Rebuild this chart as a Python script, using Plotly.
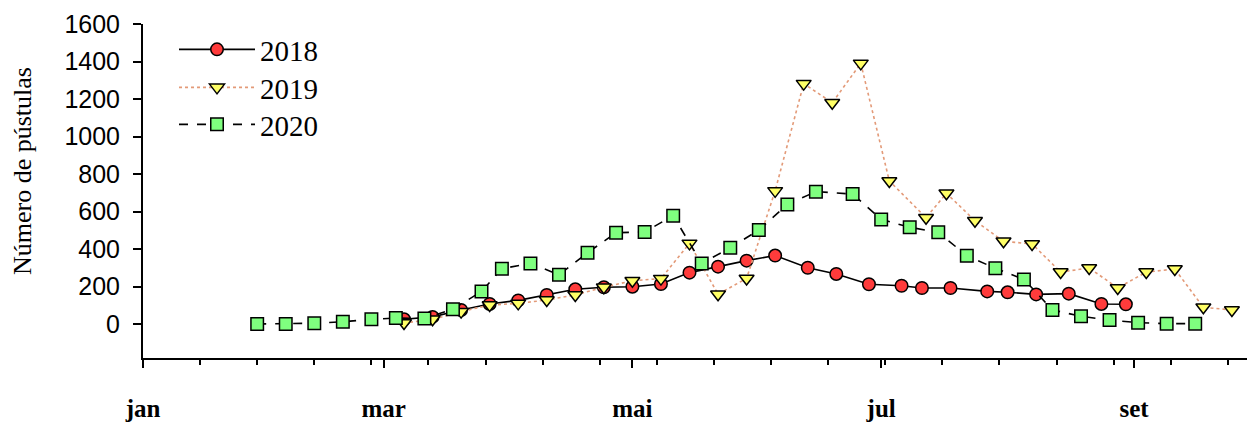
import plotly.graph_objects as go

# ---- data (day of year, 0 = 1 Jan) ----
days_2018 = [64, 71, 78, 85, 92, 99, 106, 113, 120, 127, 134, 141, 148, 155, 163, 170,
             178, 186, 191, 198, 207, 212, 219, 227, 235, 241]
pust_2018 = [25, 38, 75, 107, 126, 155, 185, 196, 199, 213, 274, 306, 338, 365, 300, 267,
             212, 204, 192, 192, 174, 169, 158, 162, 107, 105]

days_2019 = [64, 71, 78, 85, 92, 99, 106, 113, 120, 127, 134, 141, 148, 155, 162, 169,
             176, 183, 192, 197, 204, 211, 218, 225, 232, 239, 246, 253, 260, 267]
pust_2019 = [5, 25, 66, 101, 110, 128, 155, 196, 231, 242, 430, 159, 243, 710, 1282, 1180,
             1390, 763, 567, 697, 551, 441, 427, 277, 299, 192, 277, 293, 89, 75]

days_2020 = [28, 35, 42, 49, 56, 62, 69, 76, 83, 88, 95, 102, 109, 116, 123, 130, 137,
             144, 151, 158, 165, 174, 181, 188, 195, 202, 209, 216, 223, 230, 237, 244,
             251, 258]
pust_2020 = [0, 0, 4, 12, 25, 32, 30, 79, 174, 295, 323, 263, 380, 487, 491, 578, 323,
             407, 501, 638, 706, 693, 558, 516, 489, 364, 297, 238, 75, 41, 21, 7, 2, 2]

month_days = [0, 59, 120, 181, 243]
month_labels = ["jan", "mar", "mai", "jul", "set"]
y_ticks = [0, 200, 400, 600, 800, 1000, 1200, 1400, 1600]

SERIF = "Liberation Serif, Times New Roman, serif"
SANS = "Liberation Sans, Arial, sans-serif"

fig = go.Figure()
fig.add_trace(go.Scatter(
    x=days_2018, y=pust_2018, name="2018", mode="lines+markers", legend="legend",
    line=dict(color="black", width=1.6),
    marker=dict(symbol="circle", size=12.5, color="#FF3B3B",
                line=dict(color="black", width=1.5)),
))
fig.add_trace(go.Scatter(
    x=days_2019, y=pust_2019, name="2019", mode="lines+markers", legend="legend2",
    line=dict(color="#E39A78", width=1.6, dash="dot"),
    marker=dict(symbol="triangle-down", size=13, color="#FFFF66",
                line=dict(color="black", width=1.5)),
))
fig.add_trace(go.Scatter(
    x=days_2020, y=pust_2020, name="2020", mode="lines+markers", legend="legend3",
    line=dict(color="black", width=1.6, dash="dash"),
    marker=dict(symbol="square", size=12.5, color="#7FFF7F",
                line=dict(color="black", width=1.5)),
))


def leg(top_px):
    return dict(
        x=(174 - 143) / 1104, y=(358 - top_px) / 334, xanchor="left", yanchor="top",
        font=dict(family=SERIF, size=29, color="black"),
        bgcolor="rgba(0,0,0,0)", itemwidth=76,
    )


fig.update_layout(
    width=1247, height=423,
    margin=dict(l=143, r=0, t=24, b=65),
    paper_bgcolor="white", plot_bgcolor="white",
    showlegend=True,
    legend=leg(24), legend2=leg(62), legend3=leg(99),
    xaxis=dict(
        range=[0, 270.7], showline=True, linecolor="black", linewidth=2,
        ticks="outside", ticklen=8, tickwidth=1.5, tickcolor="black",
        tickvals=month_days, ticktext=month_labels,
        tickfont=dict(family=SERIF, size=25, color="black", weight="bold"),
        ticklabelstandoff=19, automargin=False,
        minor=dict(ticks="outside", ticklen=5, tickwidth=1.5, tickcolor="black",
                   tick0=0, dtick=14, showgrid=False),
        showgrid=False, zeroline=False,
    ),
    yaxis=dict(
        range=[-181.3, 1600], showline=True, linecolor="black", linewidth=2,
        ticks="outside", ticklen=8, tickwidth=2, tickcolor="black",
        tickvals=y_ticks, automargin=False,
        tickfont=dict(family=SANS, size=25, color="black"),
        ticklabelstandoff=8,
        showgrid=False, zeroline=False,
    ),
    annotations=[dict(
        text="Número de pústulas", textangle=-90,
        xref="paper", yref="paper",
        x=(22 - 143) / 1104, y=(358 - 171) / 334,
        xanchor="center", yanchor="middle", showarrow=False,
        font=dict(family=SERIF, size=26, color="black"),
    )],
)

fig.write_html("out.html")
